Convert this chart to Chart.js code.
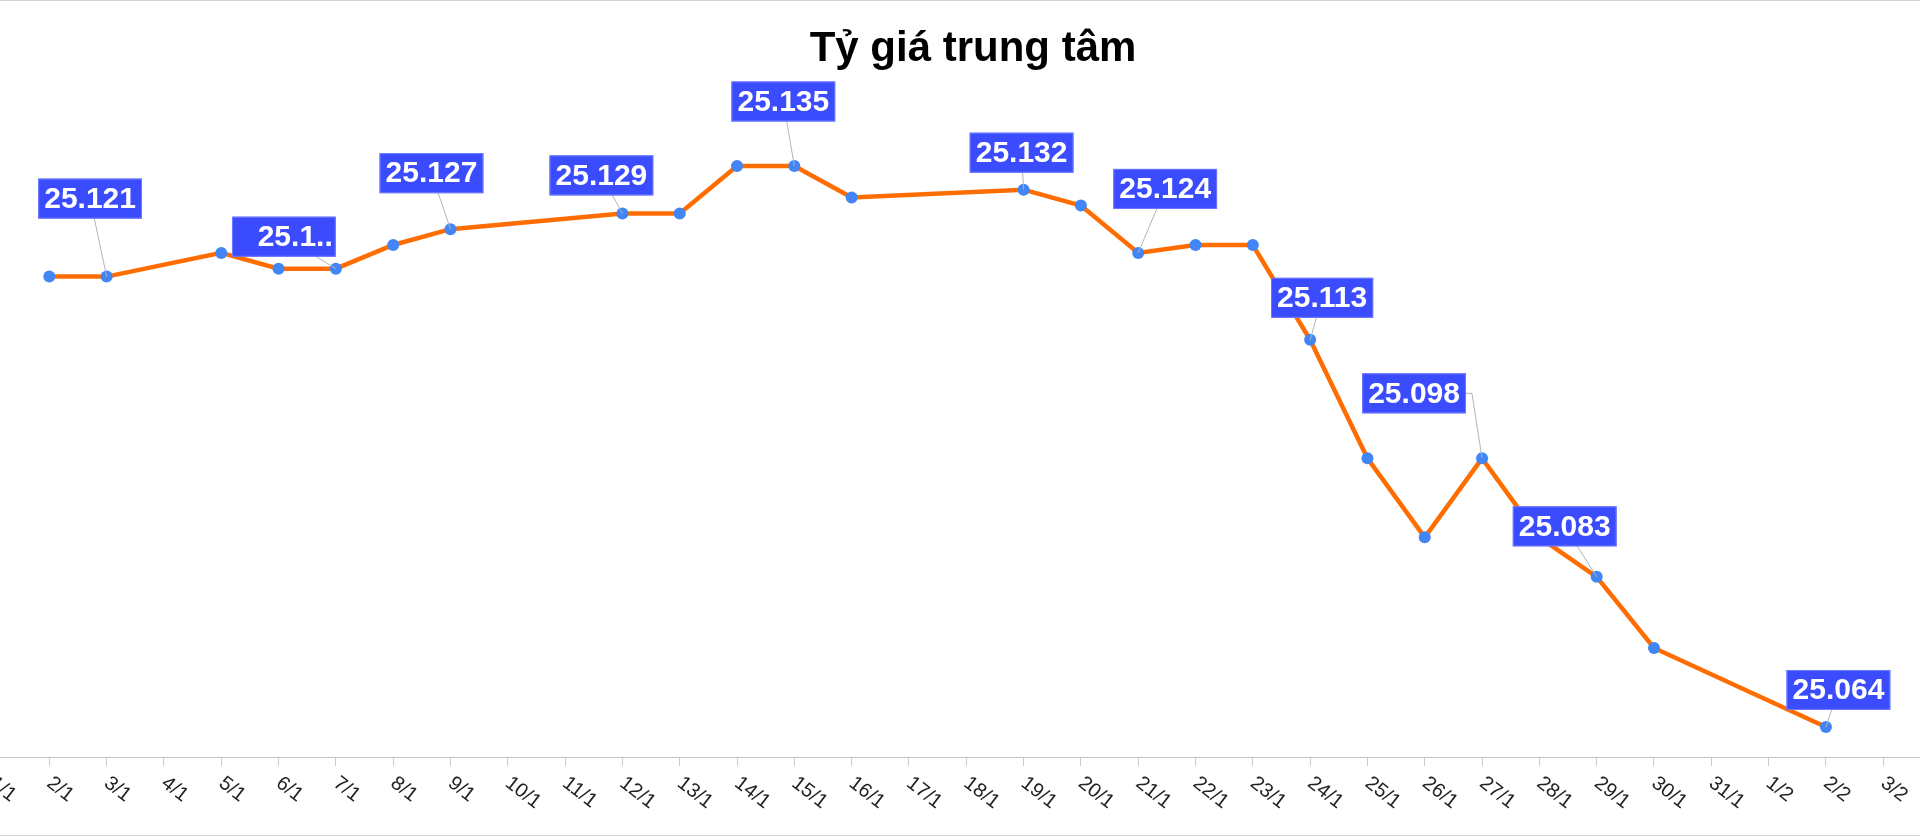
<!DOCTYPE html>
<html>
<head>
<meta charset="utf-8">
<script src="https://cdn.jsdelivr.net/npm/chart.js@4"></script>
<style>
  html, body { margin: 0; padding: 0; background: #fff; overflow: hidden; }
  #wrap { position: relative; width: 1920px; height: 836px; overflow: hidden; }
  #box { position: absolute; left: -50px; top: 0; width: 2046px; height: 836px; }
  .rule { position: absolute; left: 0; width: 1920px; height: 1px; background: #d4d4d4; }
</style>
</head>
<body>
<div id="wrap">
  <div id="box"><canvas id="myChart"></canvas></div>
  <div class="rule" style="top:0"></div>
  <div class="rule" style="top:835px"></div>
</div>
<script>
// nhãn trục hoành (ngày/tháng)
const tickLabels = ['1/1', '2/1', '3/1', '4/1', '5/1', '6/1', '7/1', '8/1', '9/1', '10/1',
    '11/1', '12/1', '13/1', '14/1', '15/1', '16/1', '17/1', '18/1', '19/1', '20/1',
    '21/1', '22/1', '23/1', '24/1', '25/1', '26/1', '27/1', '28/1', '29/1', '30/1',
    '31/1', '1/2', '2/2', '3/2'];

// ngày có công bố tỷ giá
const dates = ['2/1', '3/1', '5/1', '6/1', '7/1', '8/1', '9/1', '12/1', '13/1', '14/1',
    '15/1', '16/1', '19/1', '20/1', '21/1', '22/1', '23/1', '24/1', '25/1', '26/1',
    '27/1', '28/1', '29/1', '30/1', '2/2'];

// tỷ giá trung tâm (VND/USD)
const rates = [25121, 25121, 25124, 25122, 25122, 25125, 25127, 25129, 25129, 25135,
    25135, 25131, 25132, 25130, 25124, 25125, 25125, 25113, 25098, 25088,
    25098, 25088, 25083, 25074, 25064];

// các điểm có nhãn giá trị
const labelDates = ['3/1', '7/1', '9/1', '12/1', '15/1', '19/1', '21/1', '24/1', '27/1', '29/1', '2/2'];
const truncated = ['7/1'];

// vị trí hộp nhãn so với điểm (px)
const labelOffsets = [[-16.5, -78], [-52, -32], [-19, -56], [-21, -38], [-11, -64.5],
    [-2, -37], [27, -64], [12, -42], [-68, -65], [-32, -50.5], [12.5, -37]];
const leaderFromRight = ['27/1'];

const FONT = '"Liberation Sans", Arial, sans-serif';

function dayOf(label) {
    return tickLabels.indexOf(label) + 1;
}

function fmt(v) {
    return String(v).replace(/\B(?=(\d{3})+(?!\d))/g, '.');
}

const rateLabels = {
    id: 'rateLabels',
    afterDatasetsDraw(chart) {
        const ctx = chart.ctx;
        const meta = chart.getDatasetMeta(0);
        ctx.save();
        ctx.font = 'bold 30px ' + FONT;
        labelDates.forEach((d, i) => {
            const idx = dates.indexOf(d);
            const pt = meta.data[idx];
            const cx = pt.x + labelOffsets[i][0];
            const cy = pt.y + labelOffsets[i][1];
            const full = fmt(rates[idx]);
            const w = ctx.measureText(full).width + 12;
            const h = 40;

            // đường dẫn
            ctx.strokeStyle = '#b4b4b4';
            ctx.lineWidth = 1;
            ctx.beginPath();
            if (leaderFromRight.includes(d)) {
                ctx.moveTo(cx + w / 2, cy);
                ctx.lineTo(cx + w / 2 + 6, cy);
            } else {
                ctx.moveTo(cx, cy);
            }
            ctx.lineTo(pt.x, pt.y);
            ctx.stroke();

            // hộp nhãn
            ctx.fillStyle = '#3b4cff';
            ctx.fillRect(cx - w / 2, cy - h / 2, w, h);
            ctx.strokeStyle = '#6f7bff';
            ctx.strokeRect(cx - w / 2 + 0.5, cy - h / 2 + 0.5, w - 1, h - 1);

            ctx.fillStyle = '#fff';
            ctx.textBaseline = 'middle';
            if (truncated.includes(d)) {
                ctx.textAlign = 'right';
                ctx.fillText(full.slice(0, 4) + '..', cx + w / 2 - 3, cy + 1);
            } else {
                ctx.textAlign = 'center';
                ctx.fillText(full, cx, cy + 1);
            }
        });
        ctx.restore();
    },
    afterDraw(chart) {
        // nhãn ngày nghiêng
        const ctx = chart.ctx;
        const xs = chart.scales.x;
        ctx.save();
        ctx.font = '20px ' + FONT;
        ctx.fillStyle = '#222';
        ctx.textAlign = 'left';
        ctx.textBaseline = 'top';
        tickLabels.forEach((t, i) => {
            const px = xs.getPixelForValue(i + 1);
            ctx.save();
            ctx.translate(px + 6, xs.top + 16);
            ctx.rotate(38 * Math.PI / 180);
            ctx.fillText(t, 0, 0);
            ctx.restore();
        });
        ctx.restore();
    }
};

document.addEventListener('DOMContentLoaded', () => {
    const ctx = document.getElementById('myChart').getContext('2d');
    const points = dates.map((d, i) => ({ x: dayOf(d), y: rates[i] }));

    new Chart(ctx, {
        type: 'line',
        data: {
            datasets: [{
                label: 'Tỷ giá trung tâm',
                data: points,
                borderColor: '#ff6d00',
                borderWidth: 4.5,
                backgroundColor: '#4285f4',
                pointBackgroundColor: '#4285f4',
                pointBorderWidth: 0,
                pointRadius: 6,
                tension: 0,
                fill: false
            }]
        },
        options: {
            responsive: true,
            maintainAspectRatio: false,
            devicePixelRatio: 1,
            animation: false,
            layout: { padding: { left: 10, right: 10, top: 0, bottom: 70 } },
            plugins: {
                legend: { display: false },
                tooltip: { enabled: false },
                title: {
                    display: true,
                    text: 'Tỷ giá trung tâm',
                    color: '#000',
                    font: { family: FONT, size: 42, weight: 'bold' },
                    padding: { top: 24.5, bottom: 50 }
                }
            },
            scales: {
                x: {
                    type: 'linear',
                    min: 0.4418,
                    max: 35.793,
                    afterBuildTicks: (scale) => {
                        scale.ticks = tickLabels.map((t, i) => ({ value: i + 1 }));
                    },
                    ticks: { display: false },
                    grid: {
                        display: true,
                        drawOnChartArea: false,
                        drawTicks: true,
                        tickLength: 9,
                        tickColor: '#cccccc'
                    },
                    border: { display: true, color: '#c4c4c4', width: 1 }
                },
                y: {
                    display: false,
                    min: 25060.2,
                    max: 25140.2
                }
            }
        },
        plugins: [rateLabels]
    });
});
</script>
</body>
</html>
